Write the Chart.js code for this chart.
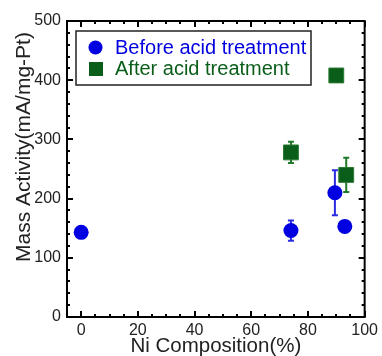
<!DOCTYPE html>
<html>
<head>
<meta charset="utf-8">
<script src="https://cdn.jsdelivr.net/npm/chart.js@4"></script>
<style>
  html, body { margin: 0; padding: 0; background: #fff; }
  #wrap { width: 382px; height: 356px; position: relative; }
</style>
</head>
<body>
<div id="wrap"><canvas id="c"></canvas></div>
<script>
// Ni composition (%) and mass activity (mA/mg-Pt)
var beforeX = [0, 74, 89.5, 93];
var beforeY = [143, 146, 210, 153];
var beforeErr = [0, 17, 38, 0];

var afterX = [74, 90, 93.5];
var afterY = [278, 408, 240];
var afterErr = [18, 5, 29];

var xTicks = [0, 20, 40, 60, 80, 100];
var yTicks = [0, 100, 200, 300, 400, 500];

var legendLabels = ['Before acid treatment', 'After acid treatment'];
var xTitle = 'Ni Composition(%)';
var yTitle = 'Mass Activity(mA/mg-Pt)';

var BLUE = '#0000e0';
var GREEN = '#0b5e1a';
var FONT = '"Liberation Sans", Arial, sans-serif';

function pts(xs, ys) {
  return xs.map(function (x, i) { return { x: x, y: ys[i] }; });
}

// error bars, drawn before points
var errorBars = {
  id: 'errorBars',
  beforeDatasetsDraw: function (chart) {
    var ctx = chart.ctx, xs = chart.scales.x, ys = chart.scales.y;
    var sets = [[beforeX, beforeY, beforeErr, '#2a2ae0'], [afterX, afterY, afterErr, '#207a2a']];
    ctx.save();
    ctx.lineWidth = 2;
    sets.forEach(function (s) {
      ctx.strokeStyle = s[3];
      s[0].forEach(function (x, i) {
        if (!s[2][i]) return;
        var px = xs.getPixelForValue(x);
        var top = ys.getPixelForValue(s[1][i] + s[2][i]);
        var bot = ys.getPixelForValue(s[1][i] - s[2][i]);
        ctx.beginPath();
        ctx.moveTo(px, top); ctx.lineTo(px, bot);
        ctx.moveTo(px - 3, top); ctx.lineTo(px + 3, top);
        ctx.moveTo(px - 3, bot); ctx.lineTo(px + 3, bot);
        ctx.stroke();
      });
    });
    ctx.restore();
  }
};

// frame with inward ticks, axis titles and the legend box
var frame = {
  id: 'frame',
  afterDraw: function (chart) {
    var ctx = chart.ctx, a = chart.chartArea, xs = chart.scales.x, ys = chart.scales.y;
    ctx.save();
    ctx.strokeStyle = '#000';
    ctx.lineWidth = 2;
    ctx.strokeRect(a.left, a.top, a.right - a.left, a.bottom - a.top);
    ctx.beginPath();
    for (var v = 0; v <= 100; v += 5) {
      var px = Math.round(xs.getPixelForValue(v));
      var len = v % 20 === 0 ? 6 : 3;
      ctx.moveTo(px, a.bottom); ctx.lineTo(px, a.bottom - len);
      ctx.moveTo(px, a.top); ctx.lineTo(px, a.top + len);
    }
    for (var w = 0; w <= 500; w += 20) {
      var py = Math.round(ys.getPixelForValue(w));
      var l2 = w % 100 === 0 ? 6 : 3;
      ctx.moveTo(a.left, py); ctx.lineTo(a.left + l2, py);
      ctx.moveTo(a.right, py); ctx.lineTo(a.right - l2, py);
    }
    ctx.stroke();

    // axis titles
    ctx.fillStyle = '#222';
    ctx.textAlign = 'center';
    ctx.textBaseline = 'middle';
    ctx.font = '20.5px ' + FONT;
    ctx.fillText(xTitle, (a.left + a.right) / 2, 346);
    ctx.save();
    ctx.translate(24, 147);
    ctx.rotate(-Math.PI / 2);
    ctx.font = '21px ' + FONT;
    ctx.fillText(yTitle, 0, 0);
    ctx.restore();

    // legend inside plot
    var lx = 76, ly = 31, lw = 235, lh = 54;
    ctx.fillStyle = '#fff';
    ctx.fillRect(lx, ly, lw, lh);
    ctx.lineWidth = 1.5;
    ctx.strokeStyle = '#222';
    ctx.strokeRect(lx, ly, lw, lh);
    ctx.fillStyle = BLUE;
    ctx.beginPath(); ctx.arc(95.5, 47.5, 7, 0, Math.PI * 2); ctx.fill();
    ctx.fillStyle = GREEN;
    ctx.fillRect(89, 62, 14, 14);
    ctx.font = '20px ' + FONT;
    ctx.textAlign = 'left';
    ctx.fillStyle = BLUE;
    ctx.fillText(legendLabels[0], 115, 48.5);
    ctx.fillStyle = GREEN;
    ctx.fillText(legendLabels[1], 115, 69.5);
    ctx.restore();
  }
};

Chart.defaults.font.family = FONT;
Chart.defaults.color = '#222';

new Chart(document.getElementById('c'), {
  type: 'scatter',
  data: {
    datasets: [
      { label: legendLabels[0], data: pts(beforeX, beforeY),
        pointStyle: 'circle', pointRadius: 7.5, pointHoverRadius: 7.5,
        backgroundColor: BLUE, borderColor: BLUE, borderWidth: 0 },
      { label: legendLabels[1], data: pts(afterX, afterY),
        pointStyle: 'rect', pointRadius: 10.5, pointHoverRadius: 10.5,
        backgroundColor: GREEN, borderColor: '#2a7a30', borderWidth: 1 }
    ]
  },
  options: {
    responsive: true,
    maintainAspectRatio: false,
    animation: false,
    events: [],
    layout: { padding: { top: 21, right: 14, left: 0, bottom: 0 } },
    plugins: { legend: { display: false }, tooltip: { enabled: false } },
    scales: {
      x: {
        type: 'linear', min: -5, max: 100,
        afterBuildTicks: function (s) { s.ticks = xTicks.map(function (v) { return { value: v }; }); },
        afterFit: function (s) { s.height = 39; },
        grid: { display: false, drawTicks: false },
        border: { display: false },
        ticks: { font: { size: 16 }, padding: 4, maxRotation: 0, color: '#222' }
      },
      y: {
        type: 'linear', min: 0, max: 500,
        afterBuildTicks: function (s) { s.ticks = yTicks.map(function (v) { return { value: v }; }); },
        afterFit: function (s) { s.width = 67; },
        grid: { display: false, drawTicks: false },
        border: { display: false },
        ticks: { font: { size: 16 }, padding: 6, color: '#222' }
      }
    }
  },
  plugins: [errorBars, frame]
});
</script>
</body>
</html>
